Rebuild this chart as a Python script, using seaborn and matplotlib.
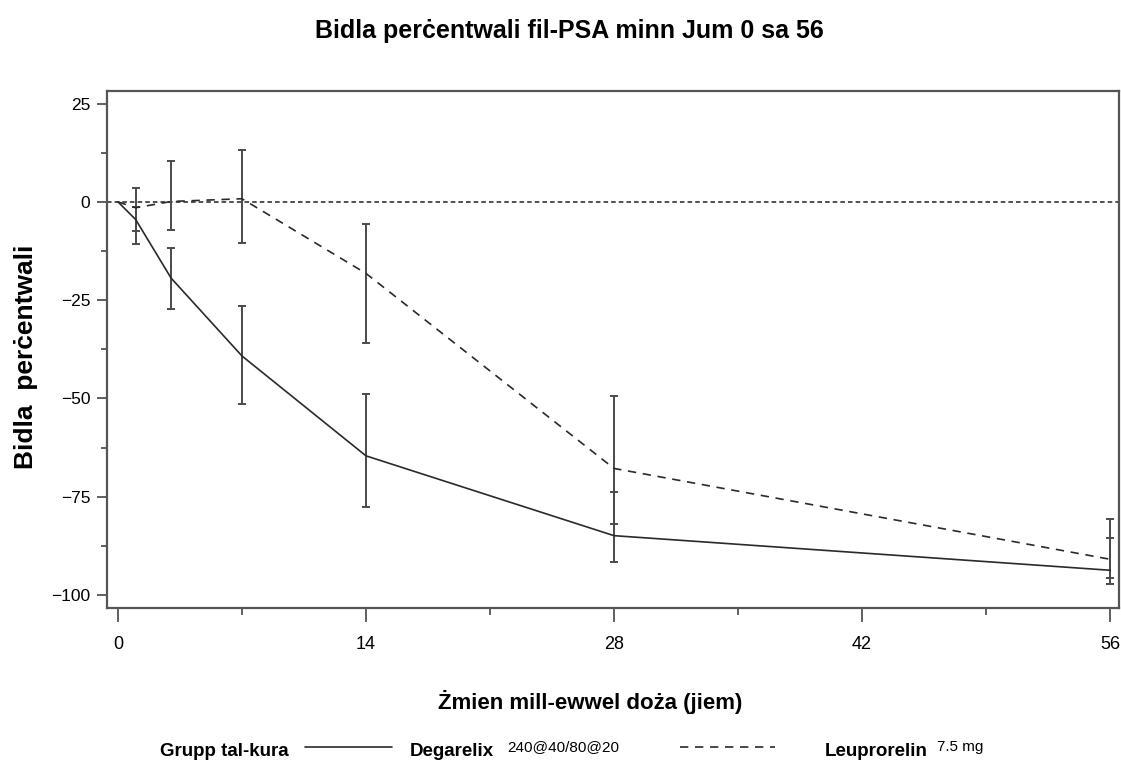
import matplotlib
matplotlib.use("Agg")
import matplotlib.pyplot as plt
from matplotlib.lines import Line2D
from matplotlib.ticker import MultipleLocator, FixedLocator
import numpy as np
import pandas as pd
import seaborn as sns

# ---- data ----
days = [0, 1, 3, 7, 14, 28, 56]
groups = ["Degarelix", "Leuprorelin"]
degarelix_mean = [0, -4.5, -19.4, -39.2, -64.6, -84.9, -93.7]
degarelix_low = [0, -10.7, -27.3, -51.5, -77.5, -91.6, -97.1]
degarelix_high = [0, -1.4, -11.8, -26.5, -48.9, -73.8, -85.6]
leupro_mean = [0, -1.5, 0.1, 0.8, -18.2, -67.8, -90.9]
leupro_low = [0, -7.3, -7.2, -10.5, -36.0, -81.9, -95.6]
leupro_high = [0, 3.5, 10.4, 13.1, -5.6, -49.4, -80.7]

title = "Bidla perċentwali fil-PSA minn Jum 0 sa 56"
xlabel = "Żmien mill-ewwel doża (jiem)"
ylabel = "Bidla  perċentwali"
xticks = [0, 14, 28, 42, 56]
yticks = [25, 0, -25, -50, -75, -100]

sns.set_style("ticks")
plt.rcParams["font.family"] = ["Liberation Sans", "DejaVu Sans"]
plt.rcParams["text.color"] = "black"

df = pd.DataFrame({
    "day": days * 2,
    "pct": degarelix_mean + leupro_mean,
    "group": [groups[0]] * len(days) + [groups[1]] * len(days),
})

fig = plt.figure(figsize=(11.21, 7.65), dpi=100)
ax = fig.add_axes([107 / 1121, 1 - 608 / 765, (1119 - 107) / 1121, (608 - 91) / 765])

line_col = "#2a2a2a"
sns.lineplot(data=df, x="day", y="pct", hue="group", style="group",
             palette={groups[0]: line_col, groups[1]: line_col},
             dashes={groups[0]: "", groups[1]: (5, 4)},
             linewidth=1.2, legend=False, ax=ax, zorder=3)

err_col = "#4a4a4a"
for mean, low, high in [(degarelix_mean[1:], degarelix_low[1:], degarelix_high[1:]),
                        (leupro_mean[1:], leupro_low[1:], leupro_high[1:])]:
    m = np.array(mean)
    ax.errorbar(days[1:], m, yerr=[m - np.array(low), np.array(high) - m],
                fmt="none", ecolor=err_col, elinewidth=1.4, capsize=3, capthick=1.4, zorder=2)

ax.axhline(0, color="#222222", lw=1.1, ls=(0, (3, 2)), zorder=1)

ax.set_xlim(-0.62, 56.51)
ax.set_ylim(-103.3, 28.2)
ax.set_xticks(xticks)
ax.set_yticks(yticks)
ax.xaxis.set_minor_locator(FixedLocator([7, 21, 35, 49]))
ax.yaxis.set_minor_locator(MultipleLocator(12.5))
ax.tick_params(axis="x", which="major", length=10, width=1.2, color="#444", labelcolor="black",
               labelsize=13, pad=10)
ax.tick_params(axis="x", which="minor", length=5, width=1.2, color="#444")
ax.tick_params(axis="y", which="major", length=7, width=1.2, color="#444", labelcolor="black",
               labelsize=12.5, pad=5)
ax.tick_params(axis="y", which="minor", length=4, width=1.2, color="#444")
for s in ax.spines.values():
    s.set_visible(True)
    s.set_color("#555555")
    s.set_linewidth(1.6)

ax.set_xlabel("")
ax.set_ylabel("")
fig.text(569 / 1121, 1 - 31 / 765, title, ha="center", va="center", fontsize=18, fontweight="bold")
fig.text(590 / 1121, 1 - 702 / 765, xlabel, ha="center", va="center", fontsize=16, fontweight="bold")
fig.text(26 / 1121, 1 - 357 / 765, ylabel, ha="center", va="center", rotation=90,
         fontsize=19, fontweight="bold")

# ---- legend ----
ly = 1 - 752 / 765
fig.text(160 / 1121, ly, "Grupp tal-kura", ha="left", va="center", fontsize=13.5, fontweight="bold")
fig.add_artist(Line2D([305 / 1121, 392 / 1121], [1 - 747 / 765] * 2, color=line_col, lw=1.2))
fig.text(410 / 1121, ly, "Degarelix", ha="left", va="center", fontsize=13.5, fontweight="bold")
fig.text(507 / 1121, 1 - 747 / 765, "240@40/80@20", ha="left", va="center", fontsize=11)
fig.add_artist(Line2D([680 / 1121, 775 / 1121], [1 - 747 / 765] * 2, color=line_col, lw=1.2,
                      ls=(0, (5, 4))))
fig.text(825 / 1121, ly, "Leuprorelin", ha="left", va="center", fontsize=13.5, fontweight="bold")
fig.text(937 / 1121, 1 - 747 / 765, "7.5 mg", ha="left", va="center", fontsize=11)

fig.savefig("out.png", dpi=100)
